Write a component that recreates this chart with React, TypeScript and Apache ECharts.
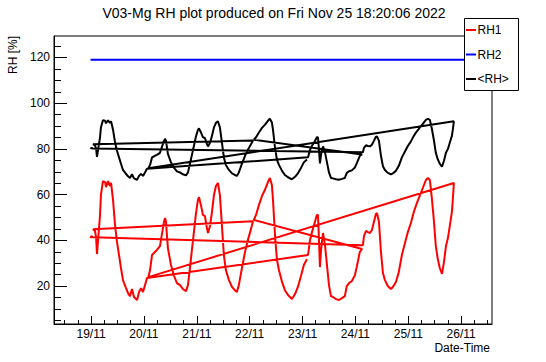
import React, { useEffect, useRef } from "react";
import * as echarts from "echarts";

// Time in hours since 19/11 00:00. Each segment: [hour, RH1, <RH>]
// Segments listed in the order the logger files were read (not time order).
const seg0 = [[-0.2, 41.0, 80.0], [0.2, 41.9, 80.5], [0.7, 41.4, 80.2]];
const seg5 = [
  [123.4, 37.9, 78.5], [123.9, 41.9, 80.5], [124.8, 44.1, 81.6], [125.7, 43.6, 81.3], [126.6, 43.2, 81.1],
  [127.5, 44.5, 81.8], [128.4, 48.0, 83.5], [129.3, 51.5, 85.3], [129.8, 51.9, 85.5], [130.7, 48.0, 83.5],
  [131.6, 34.9, 77.0], [132.5, 25.7, 72.4], [133.4, 22.6, 70.8], [134.7, 20.0, 69.5], [136.1, 18.7, 68.9],
  [137.0, 19.6, 69.3], [138.4, 21.8, 70.4], [139.7, 26.1, 72.6], [141.1, 33.6, 76.3], [142.5, 38.8, 78.9],
  [143.8, 43.6, 81.3], [145.2, 47.6, 83.3], [146.5, 52.4, 85.7], [147.9, 56.3, 87.7], [149.3, 59.8, 89.4],
  [150.6, 62.9, 91.0], [152.0, 66.4, 92.7], [152.9, 67.3, 93.2], [153.8, 66.4, 92.7], [154.7, 58.5, 88.8],
  [155.6, 48.9, 84.0], [156.5, 37.5, 78.3], [157.4, 31.8, 75.4], [158.3, 27.9, 73.5], [159.3, 25.3, 72.2],
  [160.2, 30.5, 74.8], [161.1, 37.5, 78.3], [162.0, 41.0, 80.0], [162.9, 46.7, 82.9], [163.8, 52.4, 85.7],
  [164.2, 57.6, 88.3], [164.7, 65.1, 92.1],
];
const seg2 = [
  [26.0, 23.9, 71.5], [26.8, 27.0, 73.0], [27.7, 33.6, 76.3], [29.0, 34.9, 77.0], [29.9, 35.8, 77.4],
  [31.3, 37.5, 78.3], [32.2, 42.8, 80.9], [33.1, 48.0, 83.5], [33.6, 49.8, 84.4], [34.0, 48.4, 83.7],
  [34.9, 36.6, 77.8], [36.3, 29.2, 74.1], [37.7, 24.4, 71.7], [39.0, 21.3, 70.2], [40.4, 20.4, 69.7],
  [41.7, 18.7, 68.9], [43.1, 17.8, 68.4], [44.0, 20.4, 69.7], [44.9, 27.9, 73.5], [45.8, 35.8, 77.4],
  [46.7, 43.6, 81.3], [47.6, 51.5, 85.3], [48.5, 57.6, 88.3], [49.0, 58.9, 89.0], [49.9, 55.4, 87.2],
  [50.8, 51.1, 85.1], [51.7, 50.6, 84.8], [52.6, 45.4, 82.2], [53.1, 43.2, 81.1], [54.0, 46.3, 82.7],
  [54.9, 52.4, 85.7], [55.8, 59.8, 89.4], [56.7, 63.8, 91.4], [57.6, 65.1, 92.1], [58.5, 59.8, 89.4],
  [59.4, 46.7, 82.9], [60.3, 33.6, 76.3], [61.2, 27.0, 73.0], [62.6, 22.6, 70.8], [64.0, 19.6, 69.3],
  [65.3, 18.2, 68.6], [66.2, 17.4, 68.2], [67.1, 20.4, 69.7], [68.5, 27.9, 73.5], [69.9, 34.9, 77.0],
  [71.2, 40.1, 79.6], [72.6, 44.9, 82.0], [73.5, 48.4, 83.7],
];
const seg1 = [
  [0.9, 44.9, 82.0], [1.8, 44.1, 81.6], [2.3, 41.4, 80.2], [2.7, 34.0, 76.5], [3.2, 40.1, 79.6],
  [4.1, 51.1, 85.1], [4.5, 59.8, 89.4], [5.4, 65.9, 92.5], [6.4, 65.5, 92.3], [6.8, 63.3, 91.2],
  [7.7, 65.9, 92.5], [8.6, 63.8, 91.4], [9.1, 65.1, 92.1], [10.0, 57.6, 88.3], [10.9, 46.7, 82.9],
  [11.8, 39.3, 79.2], [12.7, 33.6, 76.3], [13.6, 27.9, 73.5], [14.5, 22.6, 70.8], [15.9, 19.1, 69.1],
  [16.8, 16.9, 68.0], [17.7, 15.6, 67.3], [18.6, 18.7, 68.9], [19.5, 15.2, 67.1], [20.9, 13.9, 66.5],
  [21.8, 17.4, 68.2], [22.7, 19.1, 69.1], [23.6, 17.4, 68.2], [24.5, 20.4, 69.7], [25.4, 23.5, 71.3],
];
const seg4 = [
  [98.5, 33.6, 76.3], [99.4, 40.1, 79.6], [100.3, 43.6, 81.3], [101.6, 48.0, 83.5], [102.5, 51.1, 85.1],
  [103.0, 51.1, 85.1], [103.4, 42.3, 80.7], [103.9, 28.3, 73.7], [104.4, 35.8, 77.4], [105.3, 43.2, 81.1],
  [106.2, 37.9, 78.5], [107.1, 29.2, 74.1], [108.0, 20.4, 69.7], [108.9, 15.6, 67.3], [109.8, 15.2, 67.1],
  [111.2, 14.3, 66.7], [112.5, 13.9, 66.5], [113.9, 14.7, 66.9], [115.2, 15.6, 67.3], [116.1, 20.0, 69.5],
  [117.1, 21.3, 70.2], [118.4, 22.2, 70.6], [119.8, 24.8, 71.9], [120.7, 28.8, 73.9], [122.0, 34.9, 77.0],
  [123.0, 36.2, 77.6],
];
const seg3 = [
  [73.9, 48.9, 84.0], [74.9, 51.1, 85.1], [76.2, 55.4, 87.2], [77.6, 59.4, 89.2], [78.9, 62.0, 90.5],
  [80.3, 65.5, 92.3], [81.2, 67.3, 93.2], [82.1, 64.2, 91.6], [82.6, 57.6, 88.3], [83.5, 42.3, 80.7],
  [84.4, 31.4, 75.2], [85.3, 27.0, 73.0], [86.7, 21.8, 70.4], [88.0, 18.2, 68.6], [89.4, 16.1, 67.6],
  [91.2, 14.3, 66.7], [92.6, 16.5, 67.8], [93.9, 19.6, 69.3], [95.3, 24.4, 71.7], [96.6, 29.2, 74.1],
  [98.0, 31.8, 75.4],
];
const rh2Points = [[-0.2, 119.0], [25.4, 119.0], [73.5, 119.0], [98.0, 119.0], [123.0, 119.0], [164.7, 119.0], [178.3, 119.0]];

const dayTicks = [0, 24, 48, 72, 96, 120, 144, 168];
const dayLabels = ["19/11", "20/11", "21/11", "22/11", "23/11", "24/11", "25/11", "26/11"];
const yMajor = [20, 40, 60, 80, 100, 120];

const FONT = "'Liberation Sans', Arial, Helvetica, sans-serif";

export default function App() {
  const ref = useRef<HTMLDivElement>(null);
  useEffect(() => {
    if (!ref.current) return;
    const chart = echarts.init(ref.current, undefined, { renderer: "svg" });
    const segs = [seg0, seg5, seg2, seg1, seg4, seg3];
    const all = ([] as number[][]).concat(...segs);
    const rh1 = all.map((p) => [p[0], p[1]]);
    const avg = all.map((p) => [p[0], p[2]]);
    const xMinor: number[] = [];
    for (let h = -12; h <= 180; h += 6) if (h % 24 !== 0) xMinor.push(h);
    const yMinor: number[] = [];
    for (let v = 5; v <= 125; v += 5) if (v % 20 !== 0) yMinor.push(v);
    const xMin = -16.8, xMax = 182.0, yMin = 3.4, yMax = 129.4;
    const axisCommon = { splitLine: { show: false }, splitArea: { show: false } };
    chart.setOption({
      animation: false,
      backgroundColor: "#fff",
      grid: { left: 54, top: 36, width: 438, height: 288, show: true, borderColor: "#000", borderWidth: 1, backgroundColor: "transparent" },
      xAxis: [
        {
          type: "value", min: xMin, max: xMax, position: "bottom", ...axisCommon,
          axisLine: { show: true, onZero: false, lineStyle: { color: "#000", width: 1 } },
          axisTick: { show: true, inside: true, length: 8, customValues: dayTicks, lineStyle: { color: "#000", width: 1 } },
          axisLabel: {
            show: true, customValues: dayTicks, margin: 4, fontSize: 12, lineHeight: 12, color: "#000", fontFamily: FONT,
            formatter: (v: number) => dayLabels[Math.round(v / 24)] ?? "",
          },
        },
        {
          type: "value", min: xMin, max: xMax, position: "bottom", ...axisCommon,
          axisLine: { show: false, onZero: false },
          axisTick: { show: true, inside: true, length: 4, customValues: xMinor, lineStyle: { color: "#000", width: 1 } },
          axisLabel: { show: false },
        },
      ],
      yAxis: [
        {
          type: "value", min: yMin, max: yMax, position: "left", ...axisCommon,
          axisLine: { show: true, onZero: false, lineStyle: { color: "#000", width: 1 } },
          axisTick: { show: true, inside: true, length: 13, customValues: yMajor, lineStyle: { color: "#000", width: 1 } },
          axisLabel: { show: true, customValues: yMajor, margin: 4, fontSize: 12, color: "#000", fontFamily: FONT },
        },
        {
          type: "value", min: yMin, max: yMax, position: "left", ...axisCommon,
          axisLine: { show: false, onZero: false },
          axisTick: { show: true, inside: true, length: 7, customValues: yMinor, lineStyle: { color: "#000", width: 1 } },
          axisLabel: { show: false },
        },
      ],
      series: [
        { name: "RH1", type: "line", data: rh1, showSymbol: false, symbol: "none", lineStyle: { color: "#ff0000", width: 2 }, itemStyle: { color: "#ff0000" }, z: 3 },
        { name: "RH2", type: "line", data: rh2Points, showSymbol: false, symbol: "none", lineStyle: { color: "#0000ff", width: 2 }, itemStyle: { color: "#0000ff" }, z: 3 },
        { name: "<RH>", type: "line", data: avg, showSymbol: false, symbol: "none", lineStyle: { color: "#000000", width: 2 }, itemStyle: { color: "#000" }, z: 4 },
      ],
      graphic: [
        {
          type: "text", x: 274, y: 13, z: 100,
          style: { text: "V03-Mg RH plot produced on Fri Nov 25 18:20:06 2022", fontSize: 14, fontFamily: FONT, fill: "#000", align: "center", verticalAlign: "middle", textAlign: "center", textVerticalAlign: "middle" },
        },
        {
          type: "text", x: 490, y: 348, z: 100,
          style: { text: "Date-Time", fontSize: 12, lineHeight: 12, fontFamily: FONT, fill: "#000", align: "right", verticalAlign: "middle", textAlign: "right", textVerticalAlign: "middle" },
        },
        {
          type: "text", x: 13, y: 36, rotation: Math.PI / 2, z: 100,
          style: { text: "RH [%]", fontSize: 12, fontFamily: FONT, fill: "#000", align: "right", verticalAlign: "middle", textAlign: "right", textVerticalAlign: "middle" },
        },
        {
          type: "group", z: 100,
          children: [
            { type: "rect", z: 100, shape: { x: 464.5, y: 18.5, width: 54, height: 72 }, style: { fill: "#fff", stroke: "#000", lineWidth: 1 } },
            { type: "line", z: 101, shape: { x1: 466, y1: 30, x2: 476, y2: 30 }, style: { stroke: "#ff0000", lineWidth: 2 } },
            { type: "line", z: 101, shape: { x1: 466, y1: 54.5, x2: 476, y2: 54.5 }, style: { stroke: "#0000ff", lineWidth: 2 } },
            { type: "line", z: 101, shape: { x1: 466, y1: 79, x2: 476, y2: 79 }, style: { stroke: "#000", lineWidth: 2 } },
            { type: "text", z: 101, x: 477.5, y: 30, style: { text: "RH1", fontSize: 12, fontFamily: FONT, fill: "#000", align: "left", verticalAlign: "middle", textAlign: "left", textVerticalAlign: "middle" } },
            { type: "text", z: 101, x: 477.5, y: 54.5, style: { text: "RH2", fontSize: 12, fontFamily: FONT, fill: "#000", align: "left", verticalAlign: "middle", textAlign: "left", textVerticalAlign: "middle" } },
            { type: "text", z: 101, x: 477.5, y: 79, style: { text: "<RH>", fontSize: 12, fontFamily: FONT, fill: "#000", align: "left", verticalAlign: "middle", textAlign: "left", textVerticalAlign: "middle" } },
          ],
        },
      ],
    });
    return () => chart.dispose();
  }, []);
  return <div ref={ref} style={{ position: "absolute", left: 0, top: 0, width: 546, height: 362 }} />;
}
